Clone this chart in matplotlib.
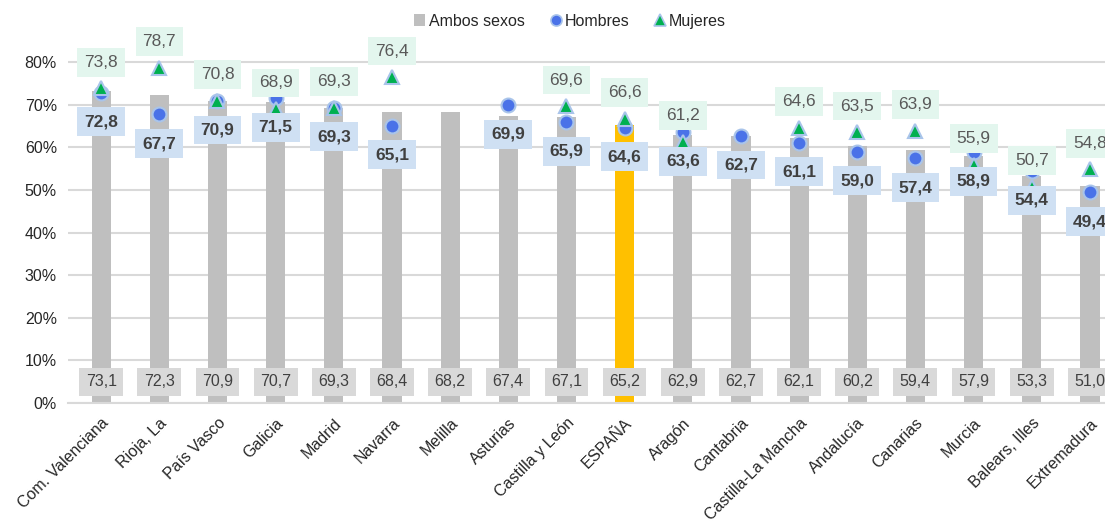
import numpy as np
import matplotlib
matplotlib.use("Agg")
import matplotlib.pyplot as plt
from matplotlib.lines import Line2D
from matplotlib.patches import Patch

plt.rcParams['font.family'] = ['Liberation Sans', 'DejaVu Sans']

regiones = ["Com. Valenciana", "Rioja, La", "País Vasco", "Galicia", "Madrid", "Navarra",
            "Melilla", "Asturias", "Castilla y León", "ESPAÑA", "Aragón", "Cantabria",
            "Castilla-La Mancha", "Andalucía", "Canarias", "Murcia", "Balears, Illes", "Extremadura"]
ambos = [73.1, 72.3, 70.9, 70.7, 69.3, 68.4, 68.2, 67.4, 67.1, 65.2, 62.9, 62.7,
         62.1, 60.2, 59.4, 57.9, 53.3, 51.0]
hombres = [72.8, 67.7, 70.9, 71.5, 69.3, 65.1, np.nan, 69.9, 65.9, 64.6, 63.6, 62.7,
           61.1, 59.0, 57.4, 58.9, 54.4, 49.4]
mujeres = [73.8, 78.7, 70.8, 68.9, 69.3, 76.4, np.nan, np.nan, 69.6, 66.6, 61.2, np.nan,
           64.6, 63.5, 63.9, 55.9, 50.7, 54.8]
y_ticks = [0, 10, 20, 30, 40, 50, 60, 70, 80]

GRIS = "#bfbfbf"
AMARILLO = "#ffc000"
AZUL = "#4a72e8"
VERDE = "#00b050"
BORDE = "#a9c4ea"


def fmt(v):
    return f"{v:.1f}".replace(".", ",")


fig = plt.figure(figsize=(11.05, 5.27), dpi=100)
ax = fig.add_axes([68 / 1105, 0.2353, (1119 - 68) / 1105, 0.9469 - 0.2353])

x = np.arange(len(regiones))
colores = [AMARILLO if r == "ESPAÑA" else GRIS for r in regiones]
ax.bar(x, ambos, width=0.33, color=colores, zorder=2)

ax.plot(x, hombres, linestyle="none", marker="o", markersize=10, color=AZUL,
        markeredgecolor=BORDE, markeredgewidth=1.5, zorder=3)
ax.plot(x, mujeres, linestyle="none", marker="^", markersize=9.5, color=VERDE,
        markeredgecolor=BORDE, markeredgewidth=1.5, zorder=3)

# etiquetas de las barras (abajo)
for xi, v in zip(x, ambos):
    ax.annotate(fmt(v), (xi, 5), ha="center", va="center", fontsize=11.5, color="#404040",
                zorder=5, annotation_clip=False,
                bbox=dict(boxstyle="square,pad=0.4", fc="#d9d9d9", ec="none"))

# hombres: debajo del punto
for xi, v in zip(x, hombres):
    if np.isnan(v):
        continue
    ax.annotate(fmt(v), (xi, v), xytext=(0, -21), textcoords="offset points",
                ha="center", va="center", fontsize=12.5, fontweight="bold", color="#404040",
                zorder=6, annotation_clip=False,
                bbox=dict(boxstyle="square,pad=0.4", fc="#cfe0f3", ec="none"))

# mujeres: encima del punto
for xi, v in zip(x, mujeres):
    if np.isnan(v):
        continue
    ax.annotate(fmt(v), (xi, v), xytext=(0, 19), textcoords="offset points",
                ha="center", va="center", fontsize=12.5, color="#595959",
                zorder=6, annotation_clip=False,
                bbox=dict(boxstyle="square,pad=0.4", fc="#e3f6ee", ec="none"))

ax.set_xlim(-0.57, len(regiones) - 0.5)
ax.set_ylim(0, 88)
ax.set_yticks(y_ticks)
ax.set_yticklabels([f"{t}%" for t in y_ticks], fontsize=11.5, color="#262626")
ax.set_xticks(x)
ax.set_xticklabels(regiones, rotation=45, ha="right", va="top", rotation_mode="anchor",
                   fontsize=11.5, color="#262626")
ax.tick_params(axis="both", length=0)
ax.tick_params(axis="y", pad=8)
ax.tick_params(axis="x", pad=9)
ax.grid(axis="y", color="#d9d9d9", linewidth=1.5, zorder=0)
ax.set_axisbelow(True)
for s in ["top", "right", "left"]:
    ax.spines[s].set_visible(False)
ax.spines["bottom"].set_color("#d9d9d9")
ax.spines["bottom"].set_linewidth(1.5)

handles = [
    Patch(facecolor=GRIS, edgecolor="none"),
    Line2D([], [], linestyle="none", marker="o", markersize=8, color=AZUL,
           markeredgecolor=BORDE, markeredgewidth=1.2),
    Line2D([], [], linestyle="none", marker="^", markersize=8, color=VERDE,
           markeredgecolor=BORDE, markeredgewidth=1.2),
]
fig.legend(handles, ["Ambos sexos", "Hombres", "Mujeres"], loc="center",
           bbox_to_anchor=(0.516, 0.96), ncol=3, frameon=False, fontsize=11.5,
           handlelength=0.7, handletextpad=0.2, columnspacing=1.6, handleheight=0.7,
           labelcolor="#262626")

fig.savefig("out.png", dpi=100)
